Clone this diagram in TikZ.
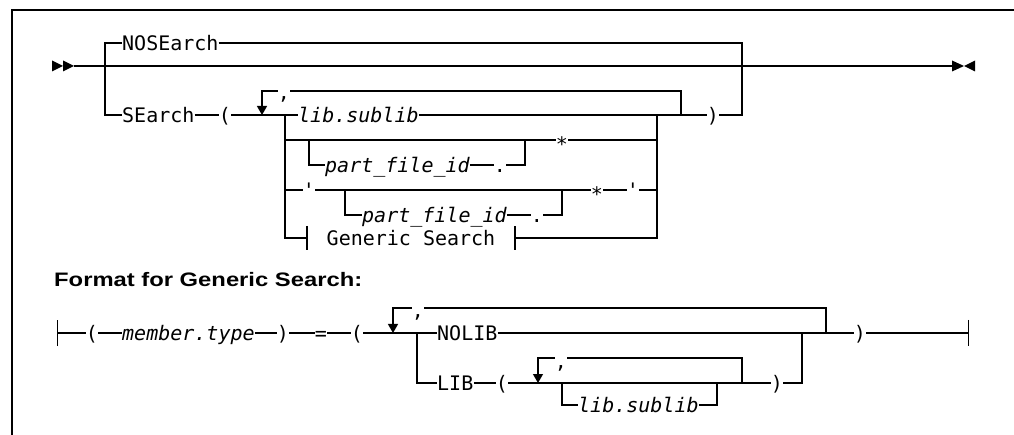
\documentclass[tikz,border=0pt]{standalone}
\usepackage{fontspec}
\usetikzlibrary{arrows.meta,calc}
\newfontfamily\railfont{DejaVu Sans Mono}
\newfontfamily\headfont[FakeStretch=1.22]{Liberation Sans}
\tikzset{
    kw/.style =     {rectangle,
                    inner xsep=0pt,
                    inner ysep=0pt,
                    text height=14.6pt,
                    text depth=0pt,
                    text=black,
                    font=\railfont\fontsize{20}{24}\selectfont},
    var/.style =    {kw,
                    font=\railfont\itshape\fontsize{20}{24}\selectfont},
    refbox/.style = {kw,
                    inner xsep=19pt},
    head/.style =   {inner sep=0pt,
                    anchor=base west,
                    font=\headfont\bfseries\fontsize{19.5}{23}\selectfont},
    rail/.style =   {draw=black,
                    line width=1.3pt},
    loop/.style =   {rail,
                    -{Triangle[width=10pt,length=9pt]}},
    frame/.style =  {draw=black,
                    line width=1.5pt}
}
\newcommand{\lowstar}{\raisebox{-4.5pt}{*}}

\begin{document}
\begin{tikzpicture}[x=1pt,y=-1pt]
    \useasboundingbox (0,0) rectangle (1014,435);
    \draw[frame] (1014,10) -- (12,10) -- (12,435);

    % main line
    \coordinate (begin) at (74,66);
    \coordinate (stop)  at (952,66);
    \coordinate (forkA) at (105,66);
    \coordinate (joinA) at (742,66);
    \fill (begin) ++(-22,-5.5) -- ++(11,5.5) -- ++(-11,5.5) -- cycle;
    \fill (begin) ++(-11,-5.5) -- ++(11,5.5) -- ++(-11,5.5) -- cycle;
    \fill (stop)  ++(0,-5.5)   -- ++(12,5.5) -- ++(-12,5.5) -- cycle;
    \fill (stop)  ++(23,-5.5)  -- ++(-11,5.5) -- ++(11,5.5) -- cycle;
    \draw[rail] (begin) -- (stop);

    \node[kw,anchor=west]   (nosearch)  at (122,43)     {NOSEarch};
    \node[kw,anchor=west]   (search)    at (122,115)    {SEarch};
    \node[kw]               (lparA)     at (225,115)    {(};
    \node[kw]               (commaA)    at (284,92)     {,};
    \node[var,anchor=west]  (libA)      at (298,115)    {lib.sublib};
    \node[kw]               (rparA)     at (713,115)    {)};

    \draw[rail] (forkA) |- (nosearch.west);
    \draw[rail] (nosearch.east) -| (joinA);
    \draw[rail] (forkA) |- (search.west);
    \draw[rail] (search) -- (lparA);
    \draw[rail] (lparA) -- (libA);
    \draw[rail] (libA) -- (rparA);
    \draw[rail] (rparA.east) -| (joinA);

    % repeat loop over the search list
    \coordinate (loopA)  at (262,115);
    \coordinate (topA)   at (262,91);
    \coordinate (loopAr) at (681,115);
    \draw[rail] (loopAr) |- (commaA.east |- topA);
    \draw[loop] (commaA.west |- topA) -| (loopA);

    % choices of one list entry
    \coordinate (chA)  at (285,115);
    \coordinate (chAr) at (657,115);
    \node[kw]               (starA)     at (562,140)    {\lowstar};
    \node[var,anchor=west]  (partA)     at (325,165)    {part\_file\_id};
    \node[kw]               (dotA)      at (500,165)    {.};
    \coordinate (subA)  at (309,140);
    \coordinate (subAr) at (525,140);
    \draw[rail] (chA) |- (starA.west);
    \draw[rail] (starA.east) -| (chAr);
    \draw[rail] (subA) |- (partA.west);
    \draw[rail] (partA) -- (dotA);
    \draw[rail] (dotA.east) -| (subAr);

    \node[kw]               (quoteA)    at (309,190)    {'};
    \node[kw]               (starB)     at (597,190)    {\lowstar};
    \node[kw]               (quoteB)    at (633,190)    {'};
    \node[var,anchor=west]  (partB)     at (362,215)    {part\_file\_id};
    \node[kw]               (dotB)      at (537,215)    {.};
    \coordinate (subB)  at (345,190);
    \coordinate (subBr) at (562,190);
    \draw[rail] (chA) |- (quoteA.west);
    \draw[rail] (quoteA) -- (starB);
    \draw[rail] (starB) -- (quoteB);
    \draw[rail] (quoteB.east) -| (chAr);
    \draw[rail] (subB) |- (partB.west);
    \draw[rail] (partB) -- (dotB);
    \draw[rail] (dotB.east) -| (subBr);

    \node[refbox]           (generic)   at (411,238)    {Generic Search};
    \draw[rail,-{Bar[width=24pt]}] (chA) |- (generic.west);
    \draw[rail,{Bar[width=24pt]}-] (generic.east) -| (chAr);

    % generic search fragment
    \node[head]             (format)    at (54,287)     {Format for Generic Search:};

    \coordinate (gsStart) at (57,333);
    \coordinate (gsEnd)   at (969,333);
    \node[kw]               (lparB)     at (92,333)     {(};
    \node[var,anchor=west]  (member)    at (122,333)    {member.type};
    \node[kw]               (rparB)     at (283,333)    {)};
    \node[kw]               (eq)        at (321,333)    {=};
    \node[kw]               (lparC)     at (357,333)    {(};
    \node[kw]               (commaB)    at (418,310)    {,};
    \node[kw,anchor=west]   (nolib)     at (437,333)    {NOLIB};
    \node[kw]               (rparD)     at (860,333)    {)};

    \draw[rail,{Bar[width=26pt]}-] (gsStart) -- (lparB);
    \draw[rail] (lparB) -- (member);
    \draw[rail] (member) -- (rparB);
    \draw[rail] (rparB) -- (eq);
    \draw[rail] (eq) -- (lparC);
    \draw[rail] (lparC) -- (nolib);
    \draw[rail] (nolib) -- (rparD);
    \draw[rail,-{Bar[width=26pt]}] (rparD) -- (gsEnd);

    \coordinate (loopB)  at (393,333);
    \coordinate (topB)   at (393,308);
    \coordinate (loopBr) at (826,333);
    \draw[rail] (loopBr) |- (commaB.east |- topB);
    \draw[loop] (commaB.west |- topB) -| (loopB);

    % LIB branch
    \coordinate (chB)  at (417,333);
    \coordinate (chBr) at (802,333);
    \node[kw,anchor=west]   (lib)       at (437,383)    {LIB};
    \node[kw]               (lparE)     at (502,383)    {(};
    \node[kw]               (commaC)    at (561,361)    {,};
    \node[var,anchor=west]  (libB)      at (578,405)    {lib.sublib};
    \node[kw]               (rparE)     at (777,383)    {)};
    \draw[rail] (chB) |- (lib.west);
    \draw[rail] (lib) -- (lparE);
    \draw[rail] (lparE) -- (rparE);
    \draw[rail] (rparE.east) -| (chBr);

    \coordinate (loopC)  at (538,383);
    \coordinate (topC)   at (538,358);
    \coordinate (loopCr) at (742,383);
    \draw[rail] (loopCr) |- (commaC.east |- topC);
    \draw[loop] (commaC.west |- topC) -| (loopC);

    \coordinate (chC)  at (562,383);
    \coordinate (chCr) at (717,383);
    \draw[rail] (chC) |- (libB.west);
    \draw[rail] (libB.east) -| (chCr);
\end{tikzpicture}
\end{document}
